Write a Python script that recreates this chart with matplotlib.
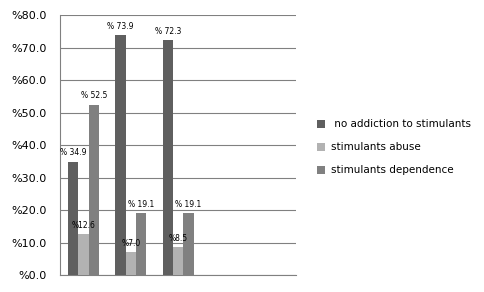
"""Stimulant addiction shares by group (bar chart)
"""
import matplotlib
matplotlib.use('Agg')
import matplotlib.pyplot as plt
import numpy as np

# categories on the x axis (last two are empty slots in the original)
categories = ['', '', '', '', '']
series_names = [' no addiction to stimulants', 'stimulants abuse', 'stimulants dependence']
no_addiction = [34.9, 73.9, 72.3]
abuse = [12.6, 7.0, 8.5]
dependence = [52.5, 19.1, 19.1]
value_labels = [
    ['% 34.9', '% 73.9', '% 72.3'],
    ['%12.6', '%7.0', '%8.5'],
    ['% 52.5', '% 19.1', '% 19.1'],
]
y_ticks = [0, 10, 20, 30, 40, 50, 60, 70, 80]
y_tick_labels = ['%0.0', '%10.0', '%20.0', '%30.0', '%40.0',
                 '%50.0', '%60.0', '%70.0', '%80.0']

colors = ['#5f5f5f', '#b2b2b2', '#808080']

fig = plt.figure(figsize=(4.84, 2.92), dpi=100)
ax = fig.add_axes([0.124, 0.058, 0.488, 0.89])

x = np.arange(len(no_addiction))
width = 0.22
series = [no_addiction, abuse, dependence]
for i, (vals, name, col) in enumerate(zip(series, series_names, colors)):
    pos = x + (i - 1) * width
    ax.bar(pos, vals, width=width, color=col, label=name, zorder=3)
    for p, v, lab in zip(pos, vals, value_labels[i]):
        ax.text(p, v + 1.3, lab, ha='center', va='bottom', fontsize=5.5,
                zorder=4)

ax.set_xlim(-0.5, len(categories) - 0.5)
ax.set_ylim(0, 80)
ax.set_xticks([])
ax.set_yticks(y_ticks)
ax.set_yticklabels(y_tick_labels, fontsize=8)
ax.tick_params(axis='y', length=0, pad=9.5)
ax.grid(axis='y', color='#808080', linewidth=0.8, zorder=0)

for side in ['top', 'right']:
    ax.spines[side].set_visible(False)
for side in ['left', 'bottom']:
    ax.spines[side].set_color('#808080')

fig.legend(loc='center left', bbox_to_anchor=(0.635, 0.495), frameon=False,
           fontsize=7.5, handlelength=0.75, handleheight=0.75, handletextpad=0.6,
           labelspacing=1.25)

fig.savefig('out.png', dpi=100)
